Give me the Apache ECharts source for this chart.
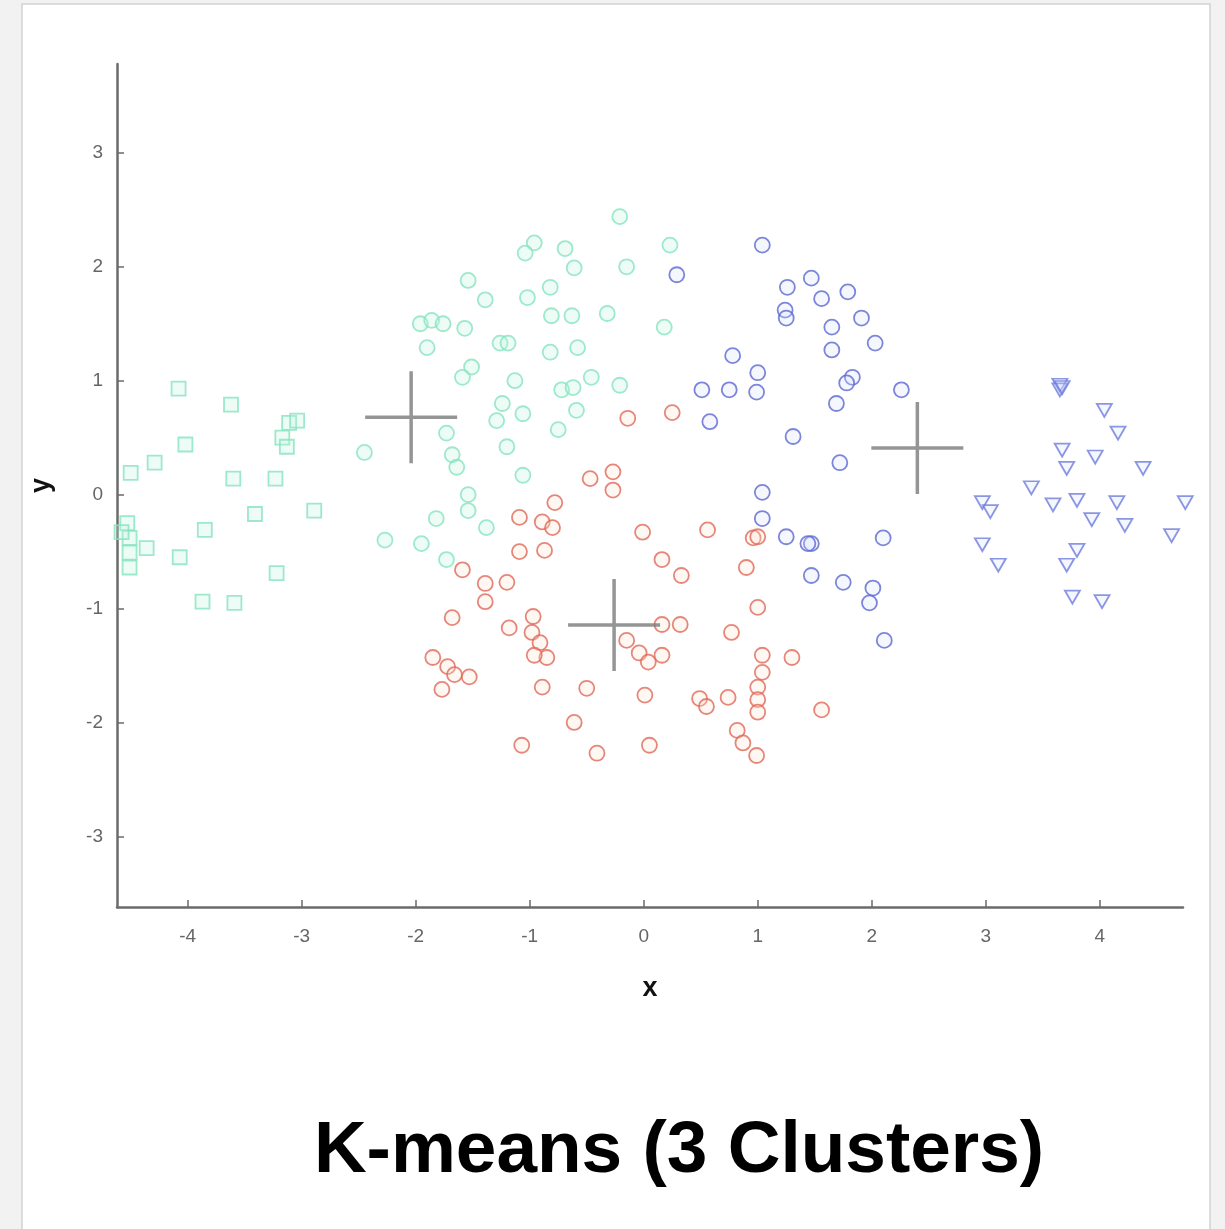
<!DOCTYPE html>
<html>
<head>
<meta charset="utf-8">
<title>K-means (3 Clusters)</title>
<script src="https://cdn.jsdelivr.net/npm/echarts@6/dist/echarts.min.js"></script>
<style>
  html, body { margin: 0; padding: 0; background: #f2f2f2; }
  #chart { width: 1225px; height: 1229px; }
</style>
</head>
<body>
<div id="chart"></div>
<script>
// Point sets per cluster, [x, y]
const greenSquares = [
  [-4.08, 0.93], [-3.62, 0.79], [-3.11, 0.63], [-3.04, 0.65], [-3.17, 0.50], [-3.13, 0.42],
  [-4.02, 0.44], [-4.29, 0.28], [-4.50, 0.19], [-3.60, 0.14], [-3.23, 0.14], [-3.41, -0.17],
  [-2.89, -0.14], [-3.85, -0.31], [-4.53, -0.25], [-4.51, -0.38], [-4.51, -0.51], [-4.51, -0.64],
  [-4.36, -0.47], [-4.58, -0.33], [-4.07, -0.55], [-3.22, -0.69], [-3.87, -0.94], [-3.59, -0.95]
];
const greenCircles = [
  [-0.21, 2.44], [-0.96, 2.21], [-1.04, 2.12], [-0.69, 2.16], [-0.61, 1.99], [-0.15, 2.00],
  [0.23, 2.19], [-1.54, 1.88], [-1.39, 1.71], [-0.82, 1.82], [-1.02, 1.73], [-1.96, 1.50],
  [-1.86, 1.53], [-1.76, 1.50], [-1.57, 1.46], [-1.90, 1.29], [-0.81, 1.57], [-0.63, 1.57],
  [-0.32, 1.59], [0.18, 1.47], [-1.26, 1.33], [-1.19, 1.33], [-0.82, 1.25], [-0.58, 1.29],
  [-1.51, 1.12], [-1.59, 1.03], [-1.13, 1.00], [-0.72, 0.92], [-0.62, 0.94], [-0.46, 1.03],
  [-0.21, 0.96], [-1.24, 0.80], [-1.06, 0.71], [-0.59, 0.74], [-0.75, 0.57], [-1.73, 0.54],
  [-1.20, 0.42], [-2.45, 0.37], [-1.68, 0.35], [-1.64, 0.24], [-1.06, 0.17], [-1.54, 0.00],
  [-1.54, -0.14], [-1.82, -0.21], [-1.38, -0.29], [-2.27, -0.40], [-1.95, -0.43], [-1.73, -0.57],
  [-1.29, 0.65]
];
const redCircles = [
  [0.25, 0.72], [-0.14, 0.67], [-0.47, 0.14], [-0.27, 0.20], [-0.27, 0.04], [-1.09, -0.20],
  [-0.78, -0.07], [-0.89, -0.24], [-0.80, -0.29], [-1.09, -0.50], [-0.87, -0.49], [-1.59, -0.66],
  [-1.39, -0.78], [-1.20, -0.77], [-1.39, -0.94], [-1.68, -1.08], [-1.18, -1.17], [-0.97, -1.07],
  [-0.98, -1.21], [-0.91, -1.30], [-0.85, -1.43], [-0.96, -1.41], [-1.85, -1.43], [-1.72, -1.51],
  [-1.66, -1.58], [-1.53, -1.60], [-1.77, -1.71], [-0.89, -1.69], [-0.50, -1.70], [-0.61, -2.00],
  [-1.07, -2.20], [-0.41, -2.27], [0.05, -2.20], [0.01, -1.76], [-0.15, -1.28], [-0.04, -1.39],
  [0.04, -1.47], [0.16, -1.41], [0.16, -1.14], [0.32, -1.14], [0.33, -0.71], [0.16, -0.57],
  [-0.01, -0.33], [0.56, -0.31], [0.96, -0.38], [1.00, -0.37], [0.90, -0.64], [1.00, -0.99],
  [0.77, -1.21], [1.04, -1.41], [1.30, -1.43], [1.04, -1.56], [1.00, -1.69], [1.00, -1.80],
  [1.00, -1.91], [0.49, -1.79], [0.55, -1.86], [0.74, -1.78], [1.56, -1.89], [0.82, -2.07],
  [0.87, -2.18], [0.99, -2.29]
];
const blueCircles = [
  [1.04, 2.19], [0.29, 1.93], [1.26, 1.82], [1.47, 1.90], [1.56, 1.72], [1.79, 1.78],
  [1.24, 1.62], [1.25, 1.55], [1.91, 1.55], [1.65, 1.47], [1.65, 1.27], [2.03, 1.33],
  [1.83, 1.03], [1.78, 0.98], [1.69, 0.80], [2.26, 0.92], [0.78, 1.22], [1.00, 1.07],
  [0.51, 0.92], [0.75, 0.92], [0.99, 0.90], [0.58, 0.64], [1.31, 0.51], [1.72, 0.28],
  [1.04, 0.02], [1.04, -0.21], [1.25, -0.37], [1.47, -0.43], [1.44, -0.43], [2.10, -0.38],
  [1.47, -0.71], [1.75, -0.77], [2.01, -0.82], [1.98, -0.95], [2.11, -1.28]
];
const blueTriangles = [
  [3.65, 0.96], [3.65, 0.92], [3.67, 0.94], [4.04, 0.74], [4.16, 0.54], [3.67, 0.39],
  [3.71, 0.23], [3.96, 0.33], [4.38, 0.23], [3.40, 0.06], [2.97, -0.07], [3.04, -0.15],
  [3.59, -0.09], [3.80, -0.05], [3.93, -0.22], [4.15, -0.07], [4.22, -0.27], [4.75, -0.07],
  [4.63, -0.36], [2.97, -0.44], [3.11, -0.62], [3.80, -0.49], [3.71, -0.62], [3.76, -0.90],
  [4.02, -0.94]
];
const centroids = [[-2.04, 0.68], [-0.26, -1.145], [2.40, 0.41]];
const xTicks = [-4, -3, -2, -1, 0, 1, 2, 3, 4];
const yTicks = [-3, -2, -1, 0, 1, 2, 3];
const titleText = 'K-means (3 Clusters)';

const chart = echarts.init(document.getElementById('chart'), null, { renderer: 'canvas' });

const hollow = (stroke, fill) => ({ color: fill, borderColor: stroke, borderWidth: 1.8 });
const axisGray = '#6b6b6b';

chart.setOption({
  backgroundColor: '#f2f2f2',
  animation: false,
  graphic: [
    {
      type: 'rect', z: -10,
      shape: { x: 22, y: 4, width: 1188, height: 1240 },
      style: { fill: '#ffffff', stroke: '#d2d2d2', lineWidth: 1.5 }
    },
    {
      type: 'text', z: 10,
      x: 679, y: 1188,
      style: {
        text: titleText,
        fill: '#000000',
        font: 'bold 73px "Liberation Sans", Arial, sans-serif',
        textAlign: 'center',
        textVerticalAlign: 'bottom'
      }
    }
  ],
  grid: { left: 117, right: 42, top: 64, bottom: 322, containLabel: false },
  xAxis: {
    type: 'value', min: -4.62, max: 4.73,
    name: 'x', nameLocation: 'middle', nameGap: 68,
    nameTextStyle: { color: '#111', fontSize: 27, fontWeight: 'bold', fontFamily: 'Liberation Sans' },
    axisLine: { onZero: false, lineStyle: { color: axisGray, width: 2.5 } },
    axisTick: { inside: true, length: 7, customValues: xTicks, lineStyle: { color: axisGray, width: 1.5 } },
    axisLabel: { customValues: xTicks, margin: 20, color: '#666', fontSize: 19, fontFamily: 'Liberation Sans' },
    splitLine: { show: false }
  },
  yAxis: {
    type: 'value', min: -3.62, max: 3.78,
    name: 'y', nameLocation: 'middle', nameGap: 62,
    nameTextStyle: { color: '#111', fontSize: 27, fontWeight: 'bold', fontFamily: 'Liberation Sans' },
    axisLine: { onZero: false, lineStyle: { color: axisGray, width: 2.5 } },
    axisTick: { inside: true, length: 7, customValues: yTicks, lineStyle: { color: axisGray, width: 1.5 } },
    axisLabel: { customValues: yTicks, margin: 14, color: '#666', fontSize: 19, fontFamily: 'Liberation Sans' },
    splitLine: { show: false }
  },
  series: [
    {
      name: 'cluster A (squares)', type: 'scatter', data: greenSquares, clip: false,
      symbol: 'rect', symbolSize: 14,
      itemStyle: hollow('#86e4bf', 'rgba(190,245,222,0.35)')
    },
    {
      name: 'cluster A', type: 'scatter', data: greenCircles, clip: false,
      symbol: 'circle', symbolSize: 15,
      itemStyle: hollow('#86e4bf', 'rgba(190,245,222,0.35)')
    },
    {
      name: 'cluster B', type: 'scatter', data: redCircles, clip: false,
      symbol: 'circle', symbolSize: 15,
      itemStyle: hollow('#e0695a', 'rgba(255,225,205,0.35)')
    },
    {
      name: 'cluster C', type: 'scatter', data: blueCircles, clip: false,
      symbol: 'circle', symbolSize: 15,
      itemStyle: hollow('#5c68d0', 'rgba(215,222,255,0.3)')
    },
    {
      name: 'cluster C (triangles)', type: 'scatter', data: blueTriangles, clip: false,
      symbol: 'path://M0,0L10,0L5,8.7Z', symbolSize: [15, 13],
      itemStyle: hollow('#6f7ddc', 'rgba(215,222,255,0.3)')
    },
    {
      name: 'centroids', type: 'scatter', data: centroids, clip: false, z: 5,
      symbol: 'path://M0,50L100,50M50,0L50,100', symbolSize: 92,
      itemStyle: { color: 'none', borderColor: '#7a7a7a', borderWidth: 3.5 }
    }
  ]
});
</script>
</body>
</html>
